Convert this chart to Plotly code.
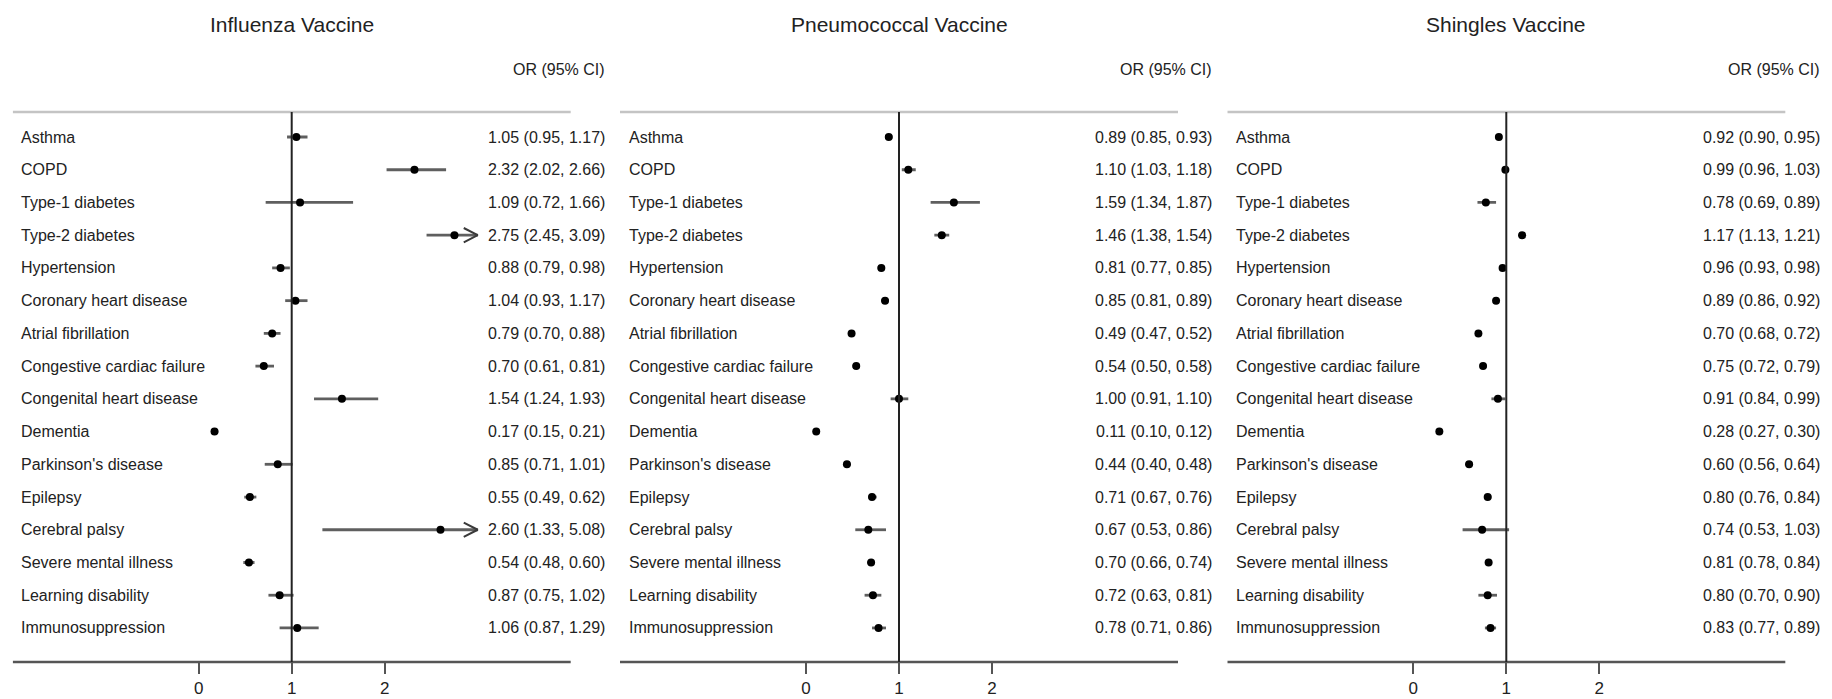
import plotly.graph_objects as go

conditions = ["Asthma", "COPD", "Type-1 diabetes", "Type-2 diabetes", "Hypertension",
              "Coronary heart disease", "Atrial fibrillation", "Congestive cardiac failure",
              "Congenital heart disease", "Dementia", "Parkinson's disease", "Epilepsy",
              "Cerebral palsy", "Severe mental illness", "Learning disability", "Immunosuppression"]

panel_titles = ["Influenza Vaccine", "Pneumococcal Vaccine", "Shingles Vaccine"]

flu_or = [1.05, 2.32, 1.09, 2.75, 0.88, 1.04, 0.79, 0.70, 1.54, 0.17, 0.85, 0.55, 2.60, 0.54, 0.87, 1.06]
flu_lo = [0.95, 2.02, 0.72, 2.45, 0.79, 0.93, 0.70, 0.61, 1.24, 0.15, 0.71, 0.49, 1.33, 0.48, 0.75, 0.87]
flu_hi = [1.17, 2.66, 1.66, 3.09, 0.98, 1.17, 0.88, 0.81, 1.93, 0.21, 1.01, 0.62, 5.08, 0.60, 1.02, 1.29]

pneu_or = [0.89, 1.10, 1.59, 1.46, 0.81, 0.85, 0.49, 0.54, 1.00, 0.11, 0.44, 0.71, 0.67, 0.70, 0.72, 0.78]
pneu_lo = [0.85, 1.03, 1.34, 1.38, 0.77, 0.81, 0.47, 0.50, 0.91, 0.10, 0.40, 0.67, 0.53, 0.66, 0.63, 0.71]
pneu_hi = [0.93, 1.18, 1.87, 1.54, 0.85, 0.89, 0.52, 0.58, 1.10, 0.12, 0.48, 0.76, 0.86, 0.74, 0.81, 0.86]

shin_or = [0.92, 0.99, 0.78, 1.17, 0.96, 0.89, 0.70, 0.75, 0.91, 0.28, 0.60, 0.80, 0.74, 0.81, 0.80, 0.83]
shin_lo = [0.90, 0.96, 0.69, 1.13, 0.93, 0.86, 0.68, 0.72, 0.84, 0.27, 0.56, 0.76, 0.53, 0.78, 0.70, 0.77]
shin_hi = [0.95, 1.03, 0.89, 1.21, 0.98, 0.92, 0.72, 0.79, 0.99, 0.30, 0.64, 0.84, 1.03, 0.84, 0.90, 0.89]

tick_vals = [0, 1, 2]
tick_text = ["0", "1", "2"]
CLIP_MAX = 3.0

panels = [(flu_or, flu_lo, flu_hi), (pneu_or, pneu_lo, pneu_hi), (shin_or, shin_lo, shin_hi)]

# ---- layout geometry (pixels) ----
W, H = 1832, 699
PX0 = 198.7          # pixel of OR = 0 in first panel
PX_UNIT = 93.0       # pixels per OR unit
PANEL_STEP = 607.3
X_MIN, X_MAX = -2.0, 4.45
LINE_MAX = 4.0
TOP_PX, BOT_PX = 112, 662
ROW0_PX, ROW_STEP = 137.0, 32.73

y_top = 1 - (ROW0_PX - TOP_PX) / ROW_STEP
y_bot = 1 + (BOT_PX - ROW0_PX) / ROW_STEP
plot_h = BOT_PX - TOP_PX

FONT = "Liberation Sans, Arial, sans-serif"
TXT = "#222222"
LBL_SIZE = 16
TITLE_SIZE = 21

fig = go.Figure()
rows = list(range(1, len(conditions) + 1))

for k, (orv, lo, hi) in enumerate(panels):
    xa = "x" if k == 0 else f"x{k+1}"
    ya = "y" if k == 0 else f"y{k+1}"
    # CI lines
    xs, ys = [], []
    for r, l, h in zip(rows, lo, hi):
        xs += [l, min(h, CLIP_MAX), None]
        ys += [r, r, None]
    fig.add_trace(go.Scatter(x=xs, y=ys, mode="lines", xaxis=xa, yaxis=ya,
                             line=dict(color="#5f5f5f", width=2.8), hoverinfo="skip",
                             showlegend=False))
    # arrows for clipped CIs
    ax_, ay_ = [], []
    for r, h in zip(rows, hi):
        if h > CLIP_MAX:
            ax_ += [CLIP_MAX - 0.15, CLIP_MAX, CLIP_MAX - 0.15, None]
            ay_ += [r - 0.22, r, r + 0.22, None]
    if ax_:
        fig.add_trace(go.Scatter(x=ax_, y=ay_, mode="lines", xaxis=xa, yaxis=ya,
                                 line=dict(color="#3a3a3a", width=2), hoverinfo="skip",
                                 showlegend=False))
    # point estimates
    fig.add_trace(go.Scatter(x=orv, y=rows, mode="markers", xaxis=xa, yaxis=ya,
                             marker=dict(color="black", size=8), showlegend=False,
                             customdata=conditions,
                             hovertemplate="%{customdata}: %{x}<extra></extra>"))

    left = (PX0 + PANEL_STEP * k + X_MIN * PX_UNIT) / W
    right = (PX0 + PANEL_STEP * k + X_MAX * PX_UNIT) / W
    axis_cfg = dict(domain=[left, right], range=[X_MIN, X_MAX], showgrid=False,
                    zeroline=False, showline=False, tickvals=tick_vals, ticktext=tick_text,
                    ticks="outside", ticklen=11, tickwidth=2, tickcolor="#555555",
                    tickfont=dict(family=FONT, size=17, color=TXT), fixedrange=True)
    ycfg = dict(domain=[0, 1], range=[y_bot, y_top], visible=False, fixedrange=True)
    if k > 0:
        axis_cfg["anchor"] = ya
        ycfg["anchor"] = xa
    fig.update_layout({("xaxis" if k == 0 else f"xaxis{k+1}"): axis_cfg,
                       ("yaxis" if k == 0 else f"yaxis{k+1}"): ycfg})

    xr = xa
    yr_dom = f"{ya} domain"
    # top line (light), bottom line (dark), reference line at 1
    fig.add_shape(type="line", xref=xr, yref=yr_dom, x0=X_MIN, x1=LINE_MAX, y0=1, y1=1,
                  line=dict(color="#c4c4c4", width=2.5))
    fig.add_shape(type="line", xref=xr, yref=yr_dom, x0=X_MIN, x1=LINE_MAX, y0=0, y1=0,
                  line=dict(color="#555555", width=2.5))
    fig.add_shape(type="line", xref=xr, yref=yr_dom, x0=1, x1=1, y0=0, y1=1,
                  line=dict(color="#222222", width=2))

    # row labels and OR text
    for r, name, o, l, h in zip(rows, conditions, orv, lo, hi):
        fig.add_annotation(x=-1.93, y=r, xref=xr, yref=ya, text=name, showarrow=False,
                           xanchor="left", yanchor="middle",
                           font=dict(family=FONT, size=LBL_SIZE, color=TXT))
        fig.add_annotation(x=4.39, y=r, xref=xr, yref=ya,
                           text=f"{o:.2f} ({l:.2f}, {h:.2f})", showarrow=False,
                           xanchor="right", yanchor="middle",
                           font=dict(family=FONT, size=LBL_SIZE, color=TXT))
    # header
    fig.add_annotation(x=4.39, y=1 + (TOP_PX - 70) / plot_h, xref=xr, yref="paper",
                       text="OR (95% CI)", showarrow=False, xanchor="right", yanchor="middle",
                       font=dict(family=FONT, size=LBL_SIZE, color=TXT))
    # title
    fig.add_annotation(x=1, y=1 + (TOP_PX - 24) / plot_h, xref=xr, yref="paper",
                       text=panel_titles[k], showarrow=False, xanchor="center", yanchor="middle",
                       font=dict(family=FONT, size=TITLE_SIZE, color=TXT))

fig.update_layout(width=W, height=H, margin=dict(l=0, r=0, t=TOP_PX, b=H - BOT_PX),
                  plot_bgcolor="white", paper_bgcolor="white", showlegend=False)

fig.write_html("out.html", config={"displayModeBar": False},
               post_script="document.body.style.margin='0';")
